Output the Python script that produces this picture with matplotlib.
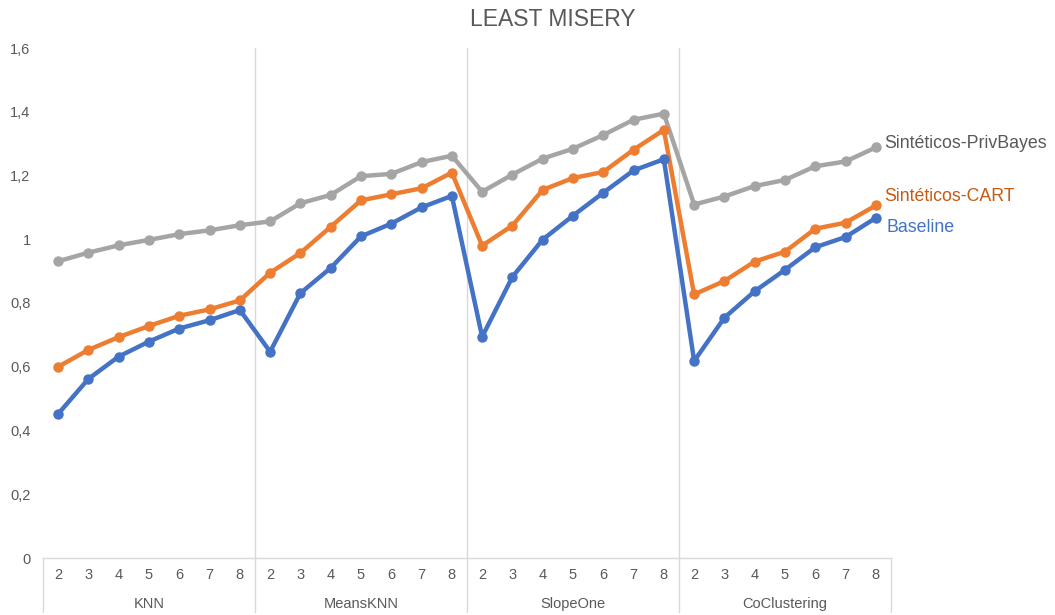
import matplotlib
matplotlib.use("Agg")
import matplotlib.pyplot as plt
import matplotlib.transforms as mtransforms

plt.rcParams['font.family'] = ['Liberation Sans', 'DejaVu Sans']

title = "LEAST MISERY"
groups = ["KNN", "MeansKNN", "SlopeOne", "CoClustering"]
k_values = ["2", "3", "4", "5", "6", "7", "8"]

baseline = [0.452, 0.562, 0.632, 0.679, 0.720, 0.746, 0.778,
            0.647, 0.831, 0.910, 1.009, 1.049, 1.100, 1.136,
            0.694, 0.882, 0.999, 1.074, 1.146, 1.216, 1.251,
            0.618, 0.754, 0.837, 0.904, 0.975, 1.007, 1.067]
cart = [0.600, 0.653, 0.693, 0.728, 0.760, 0.780, 0.808,
        0.895, 0.957, 1.039, 1.122, 1.141, 1.160, 1.209,
        0.980, 1.043, 1.155, 1.192, 1.211, 1.281, 1.343,
        0.827, 0.869, 0.930, 0.961, 1.033, 1.052, 1.106]
privbayes = [0.931, 0.958, 0.981, 0.998, 1.016, 1.028, 1.044,
             1.056, 1.113, 1.139, 1.198, 1.205, 1.242, 1.262,
             1.149, 1.203, 1.253, 1.284, 1.327, 1.375, 1.394,
             1.109, 1.134, 1.167, 1.186, 1.229, 1.244, 1.288]

series_names = ["Sintéticos-PrivBayes", "Sintéticos-CART", "Baseline"]
line_colors = ["#A5A5A5", "#ED7D31", "#4472C4"]
label_colors = ["#595959", "#C55A11", "#4472C4"]
label_offsets = [(6, 3), (6, 6.5), (8, -7)]

y_ticks = [0, 0.2, 0.4, 0.6, 0.8, 1.0, 1.2, 1.4, 1.6]
y_tick_labels = ["0", "0,2", "0,4", "0,6", "0,8", "1", "1,2", "1,4", "1,6"]

fig = plt.figure(figsize=(10.55, 6.15), dpi=100)
ax = fig.add_axes([43 / 1055, 57 / 615, 848 / 1055, 510 / 615])

n = len(groups) * len(k_values)
x = list(range(n))

for values, name, lc, tc, off in zip([privbayes, cart, baseline], series_names,
                                     line_colors, label_colors, label_offsets):
    ax.plot(x, values, color=lc, lw=3.2, marker="o", ms=6.5,
            solid_joinstyle="round", zorder=3)
    ax.annotate(name, xy=(x[-1], values[-1]), xytext=off,
                textcoords="offset points", color=tc, fontsize=12.8,
                va="center", ha="left", annotation_clip=False)

ax.set_xlim(-0.5, n - 0.5)
ax.set_ylim(0, 1.6)
for s in ax.spines.values():
    s.set_visible(False)

ax.set_yticks(y_ticks)
ax.set_yticklabels(y_tick_labels)
ax.set_xticks(x)
ax.set_xticklabels(k_values * len(groups))
ax.tick_params(axis="both", length=0, labelsize=10.5, labelcolor="#595959")
ax.tick_params(axis="y", pad=9)
ax.tick_params(axis="x", pad=7)

sep_color = "#D9D9D9"
trans = mtransforms.blended_transform_factory(ax.transData, ax.transAxes)
bottom = -54 / 510
ax.plot([-0.5, n - 0.5], [0, 0], color=sep_color, lw=1.0, transform=trans,
        clip_on=False, zorder=1)
ax.plot([-0.5, -0.5], [0, bottom], color=sep_color, lw=1.0, transform=trans,
        clip_on=False)
ax.plot([n - 0.5, n - 0.5], [0, bottom], color=sep_color, lw=1.0,
        transform=trans, clip_on=False)
gsize = len(k_values)
for g in range(1, len(groups)):
    xb = g * gsize - 0.5
    ax.plot([xb, xb], [1.0, bottom], color=sep_color, lw=1.0,
            transform=trans, clip_on=False, zorder=1)
for g, name in enumerate(groups):
    xc = g * gsize + (gsize - 1) / 2
    ax.text(xc, -46 / 510, name, transform=trans, ha="center", va="center",
            fontsize=10.5, color="#595959")

fig.text(553 / 1055, 1 - 20 / 615, title, ha="center", va="center",
         fontsize=16.5, color="#595959")

fig.savefig("out.png", dpi=100, facecolor="white")
